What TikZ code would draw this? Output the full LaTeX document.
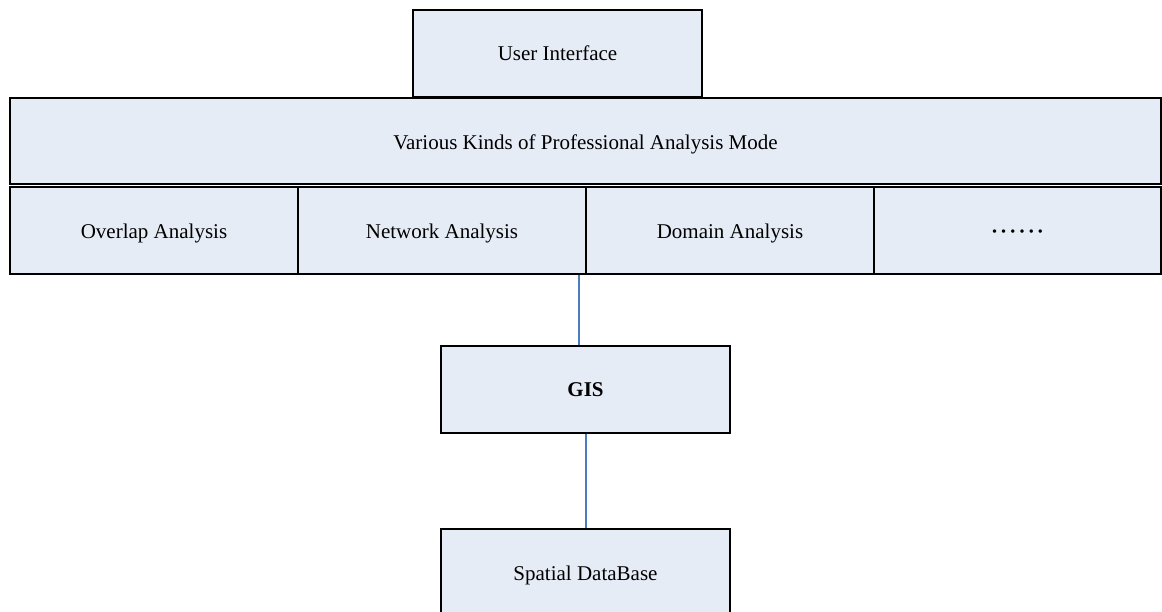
\documentclass[tikz,border=0pt]{standalone}
\usepackage{fontspec}
\setmainfont{Liberation Serif}
\definecolor{boxfill}{RGB}{230,236,246}
\definecolor{linkblue}{RGB}{74,126,193}
\newcommand{\sixdots}{\bfseries ·\kern2.2pt·\kern2.2pt·\kern2.2pt·\kern2.2pt·\kern2.2pt·}
\begin{document}
\begin{tikzpicture}[x=1pt,y=-1pt,
  box/.style={draw=black,line width=2pt,fill=boxfill,rectangle,inner sep=0pt,
    font=\fontsize{21}{25}\selectfont},
  low/.style={text height=22pt,text depth=5pt},
  link/.style={draw=linkblue,line width=2pt}]
\useasboundingbox (0,0) rectangle (1162,612);
\clip (0,0) rectangle (1162,612);
\node[box,minimum width=289pt,minimum height=87pt] (ui) at (557.5,53.5) {User Interface};
\node[box,low,minimum width=1151pt,minimum height=86pt] (mode) at (585.5,141) {Various Kinds of Professional Analysis Mode};
\node[box,low,minimum width=288pt,minimum height=87pt] (overlap) at (154,230.5) {Overlap Analysis};
\node[box,low,minimum width=288pt,minimum height=87pt] (network) at (442,230.5) {Network Analysis};
\node[box,low,minimum width=288pt,minimum height=87pt] (domain) at (730,230.5) {Domain Analysis};
\node[box,low,minimum width=287pt,minimum height=87pt] (more) at (1017.5,230.5) {\sixdots};
\node[box,minimum width=289pt,minimum height=87pt] (gis) at (585.5,389.5) {\textbf{GIS}};
\node[box,text height=20pt,text depth=5pt,minimum width=289pt,minimum height=88pt] (db) at (585.5,573) {Spatial DataBase};
\draw[link] ([xshift=-6.5pt]gis.north |- network.south) -- ([xshift=-6.5pt]gis.north);
\draw[link] (gis.south) -- (db.north);
\end{tikzpicture}
\end{document}
